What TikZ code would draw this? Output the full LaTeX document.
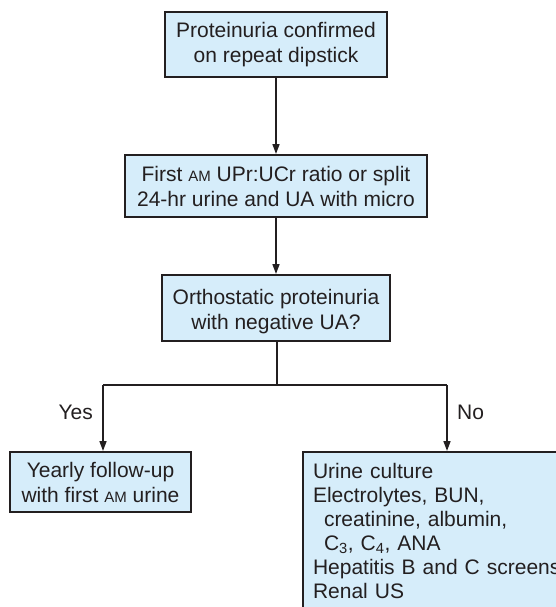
\documentclass[tikz,border=0pt]{standalone}
\usepackage{fontspec}
\setmainfont{Liberation Sans}
\usetikzlibrary{arrows.meta}
\definecolor{boxfill}{RGB}{214,237,250}
\definecolor{inkline}{RGB}{35,31,32}
% small capitals for the "AM" abbreviation
\newcommand{\amsc}{{\fontsize{15}{18}\selectfont AM}}
\tikzset{
  stepbox/.style={draw=inkline, line width=2pt, fill=boxfill, align=center,
    inner sep=0pt, text=inkline, font=\fontsize{21}{25}\selectfont},
  flow/.style={draw=inkline, line width=1.6pt},
  flowarrow/.style={flow, -{Triangle[width=7pt,length=10pt]}},
  lbl/.style={text=inkline, font=\fontsize{21}{25}\selectfont, inner sep=0pt}
}
\begin{document}
\begin{tikzpicture}[x=1pt,y=-1pt]
\useasboundingbox (0,0) rectangle (556,607);
\clip (0,0) rectangle (556,607);
\fill[white] (0,0) rectangle (556,607);

\node[stepbox, minimum width=222pt, minimum height=65pt] (confirm) at (276,45)
  {Proteinuria confirmed\\on repeat dipstick};
\node[stepbox, minimum width=302pt, minimum height=62pt] (ratio) at (276,186)
  {First \amsc{} UPr:UCr ratio or split\\24-hr urine and UA with micro};
\node[stepbox, minimum width=228pt, minimum height=66pt] (ortho) at (276,308)
  {\rule{0pt}{23pt}Orthostatic proteinuria\\with negative UA?};
\node[stepbox, minimum width=181pt, minimum height=60pt] (yearly) at (100.5,482)
  {Yearly follow-up\\with first \amsc{} urine};
\node[stepbox, anchor=north west, align=left, text width=280pt,
      font=\fontsize{21}{24}\selectfont,
      inner xsep=10pt, inner ysep=11pt] (tests) at (302,451)
  {Urine culture\\Electrolytes, BUN,\\\hspace*{11pt}creatinine, albumin,\\
   \hspace*{11pt}C\textsubscript{3}, C\textsubscript{4}, ANA\\
   Hepatitis B and C screens\\Renal US\rule[-12pt]{0pt}{12pt}};

\coordinate (split) at (277,385);
\coordinate (splitL) at (103,385);
\coordinate (splitR) at (447,385);

\draw[flowarrow] (confirm) -- (ratio);
\draw[flowarrow] (ratio) -- (ortho);
\draw[flow] (ortho.south -| split) -- (split);
\draw[flow] (splitL) -- (splitR);
\draw[flowarrow] (splitL) -- (splitL |- yearly.north);
\draw[flowarrow] (splitR) -- (splitR |- tests.north);

\node[lbl, anchor=east] (yes) at (93,412) {Yes};
\node[lbl, anchor=west] (no) at (457,412) {No};
\end{tikzpicture}
\end{document}
